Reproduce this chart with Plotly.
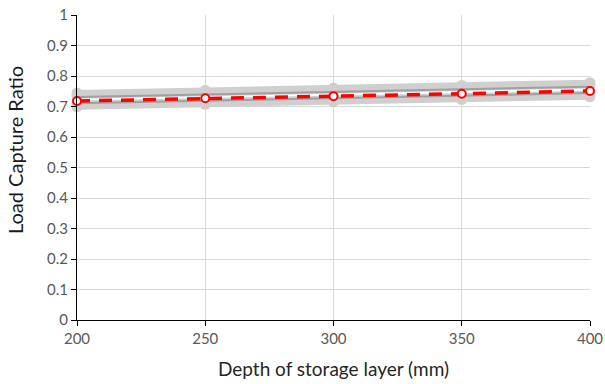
import plotly.graph_objects as go

depth = [200, 250, 300, 350, 400]

gray_light = [
    [0.744, 0.753, 0.761, 0.769, 0.778],
    [0.735, 0.745, 0.753, 0.761, 0.769],
    [0.710, 0.718, 0.726, 0.734, 0.742],
    [0.699, 0.707, 0.715, 0.723, 0.732],
]
gray_dark = [
    [0.731, 0.740, 0.748, 0.756, 0.765],
    [0.711, 0.719, 0.727, 0.735, 0.744],
]
mean_ratio = [0.718, 0.727, 0.734, 0.742, 0.751]

fig = go.Figure()
for s in gray_light:
    fig.add_trace(go.Scatter(x=depth, y=s, mode="lines+markers",
                             line=dict(color="#cfcfcf", width=6),
                             marker=dict(color="#cfcfcf", size=11),
                             cliponaxis=False, showlegend=False))
for s in gray_dark:
    fig.add_trace(go.Scatter(x=depth, y=s, mode="lines",
                             line=dict(color="#a0a0a0", width=2),
                             cliponaxis=False, showlegend=False))
fig.add_trace(go.Scatter(x=depth, y=mean_ratio, mode="lines+markers",
                         line=dict(color="#ff0000", width=3.5, dash="13px,9px"),
                         marker=dict(color="white", size=8,
                                     line=dict(color="#ff0000", width=2)),
                         cliponaxis=False, showlegend=False))

font_family = "Lato, Open Sans, sans-serif"
fig.update_layout(
    width=605, height=384,
    margin=dict(l=77, r=15, t=15, b=64),
    paper_bgcolor="white", plot_bgcolor="white",
    font=dict(family=font_family, color="#404040"),
    xaxis=dict(range=[200, 400], tickvals=depth, showgrid=True,
               gridcolor="#d9d9d9", gridwidth=1, automargin=False,
               showline=True, linecolor="black", linewidth=1,
               ticks="outside", ticklen=5, tickcolor="black",
               tickfont=dict(size=15, color="#595959"),
               title=dict(text="Depth of storage layer (mm)",
                          font=dict(size=19, color="#262626"), standoff=16),
               zeroline=False),
    yaxis=dict(range=[0, 1], dtick=0.1, showgrid=True,
               gridcolor="#d9d9d9", gridwidth=1, automargin=False,
               showline=True, linecolor="black", linewidth=1,
               ticks="outside", ticklen=5, tickcolor="black",
               tickfont=dict(size=15, color="#595959"),
               zeroline=False),
    annotations=[dict(text="Load Capture Ratio", textangle=-90,
                      xref="paper", yref="paper", x=-0.121, y=0.557,
                      xanchor="center", yanchor="middle", showarrow=False,
                      font=dict(size=20, color="#1a1a1a", family=font_family))],
)
fig.write_html("out.html")
